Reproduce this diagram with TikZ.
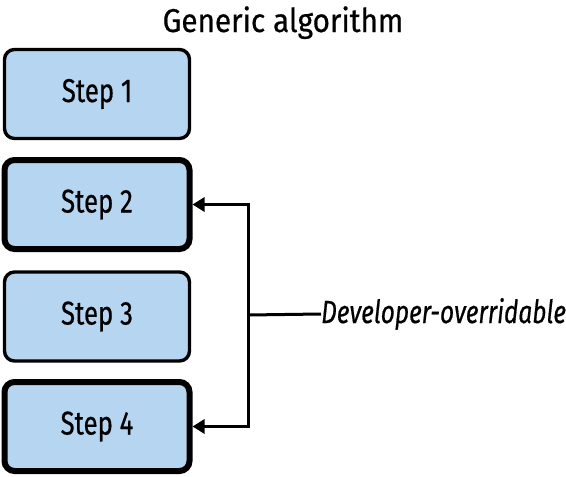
\documentclass[tikz,border=0pt]{standalone}
\usepackage{fontspec}
\setmainfont{Fira Sans}[FakeStretch=0.78, FakeBold=0.5]
\newfontfamily\titlefont{Fira Sans}[FakeStretch=0.9, FakeBold=0.5]
\newfontfamily\labelfont{Fira Sans Italic}[FakeStretch=0.765, FakeBold=0.5]
\usetikzlibrary{arrows.meta}
\definecolor{stepfill}{RGB}{182,213,240}
\tikzset{
  stepbox/.style={draw=black, fill=stepfill, rounded corners=10pt, minimum width=185pt, minimum height=89pt, line width=3.4pt, inner sep=0pt, font=\fontsize{33}{36}\selectfont},
  thickbox/.style={stepbox, line width=6pt},
  conn/.style={line width=3pt},
  arr/.style={conn, -{Triangle[length=12pt,width=14pt]}}
}
\begin{document}
\begin{tikzpicture}[x=1pt,y=-1pt]
\useasboundingbox (0,0) rectangle (566,477);
\node[anchor=base, inner sep=0pt, font=\titlefont\fontsize{33}{36}\selectfont] (title) at (283,32) {Generic algorithm};
\node[stepbox] (s1) at (97,94) {Step 1};
\node[thickbox] (s2) at (97,204.5) {Step 2};
\node[stepbox] (s3) at (97,316.5) {Step 3};
\node[thickbox] (s4) at (97,426.5) {Step 4};
\node[anchor=west, inner sep=0pt, font=\labelfont\fontsize{32}{36}\selectfont] (lab) at (321,314) {Developer-overridable};
\coordinate (v) at (248,315);
\draw[conn] (lab.west) -- (v);
\draw[arr] (v) |- (s2.east);
\draw[arr] (v) |- (s4.east);
\end{tikzpicture}
\end{document}
